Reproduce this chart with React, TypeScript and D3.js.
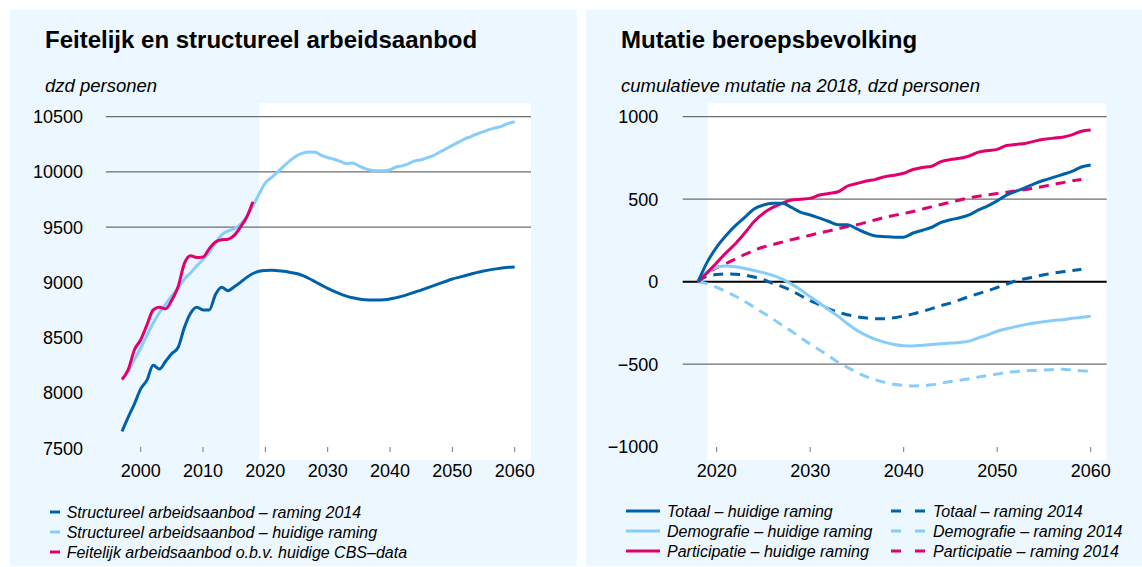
import React from 'react';
import * as d3 from 'd3';

// ---------- DATA ----------
// Left chart: Feitelijk en structureel arbeidsaanbod (dzd personen)
const structureel2014Start = 1997;
const structureel2014 = [
  7650, 7780, 7900, 8035, 8115, 8250, 8215, 8285, 8355, 8410, 8590, 8720, 8775, 8750, 8750, 8890,
  8955, 8925, 8960, 9000, 9045, 9080, 9100, 9108, 9110, 9106, 9100, 9090, 9080, 9060, 9035, 9005,
  8975, 8945, 8920, 8895, 8875, 8860, 8850, 8843, 8840, 8840, 8843, 8850, 8862, 8875, 8893, 8912,
  8930, 8950, 8970, 8990, 9010, 9030, 9045, 9060, 9075, 9090, 9102, 9113, 9122, 9130, 9137, 9140,
];
const structureelHuidigStart = 1998;
const structureelHuidig = [
  8190, 8300, 8405, 8520, 8630, 8725, 8800, 8880, 8945, 9030, 9085, 9150, 9205, 9270, 9355, 9430,
  9465, 9485, 9525, 9590, 9690, 9800, 9900, 9950, 10000, 10055, 10105, 10145, 10170, 10180, 10178,
  10150, 10130, 10115, 10095, 10075, 10080, 10055, 10030, 10015, 10010, 10010, 10020, 10045, 10055,
  10075, 10100, 10110, 10130, 10150, 10180, 10210, 10240, 10270, 10300, 10320, 10345, 10365, 10385,
  10400, 10415, 10440, 10455,
];
const feitelijkStart = 1997;
const feitelijk = [
  8120, 8210, 8390, 8480, 8615, 8750, 8775, 8760, 8840, 8960, 9170, 9240, 9225, 9230, 9305, 9365,
  9385, 9390, 9425, 9500, 9590, 9730,
];
const leftYTicks = [7500, 8000, 8500, 9000, 9500, 10000, 10500];
const leftGridValues = [9500, 10000, 10500];
const leftXTicks = [2000, 2010, 2020, 2030, 2040, 2050, 2060];

// Right chart: Mutatie beroepsbevolking (cumulatieve mutatie na 2018)
const rightStart = 2018;
const totaalHuidig = [
  0, 120, 210, 280, 340, 390, 440, 465, 475, 475, 450, 420, 404, 385, 365, 345, 345, 320, 295, 277,
  273, 270, 270, 295, 312, 330, 360, 375, 388, 405, 435, 460, 490, 525, 548, 570, 595, 615, 632, 650,
  668, 695, 707,
];
const demografieHuidig = [
  0, 60, 88, 95, 90, 80, 68, 55, 38, 15, -15, -50, -91, -130, -170, -210, -255, -295, -325, -350,
  -368, -380, -388, -390, -385, -380, -376, -372, -368, -360, -340, -322, -300, -285, -272, -260,
  -250, -242, -235, -230, -222, -216, -210,
];
const participatieHuidig = [
  0, 55, 115, 175, 230, 295, 365, 415, 450, 475, 495, 500, 505, 525, 535, 545, 580, 595, 610, 620,
  637, 645, 657, 680, 692, 700, 728, 740, 748, 762, 785, 795, 802, 825, 832, 838, 852, 863, 870, 876,
  890, 912, 919,
];
const totaal2014 = [
  0, 35, 43, 47, 45, 40, 28, 12, -10, -30, -55, -85, -115, -140, -165, -185, -200, -213, -220, -224,
  -224, -218, -208, -195, -180, -163, -145, -130, -110, -90, -72, -55, -35, -15, 5, 18, 30, 42, 52,
  60, 68, 75,
];
const demografie2014 = [
  0, -12, -35, -60, -88, -120, -155, -190, -225, -265, -300, -340, -378, -414, -450, -490, -520,
  -550, -575, -595, -610, -622, -628, -632, -630, -625, -615, -605, -597, -588, -578, -568, -560,
  -550, -545, -540, -538, -535, -532, -530, -535, -540, -545,
];
const participatie2014 = [
  0, 55, 85, 110, 138, 165, 190, 210, 225, 240, 255, 268, 282, 295, 308, 322, 335, 345, 360, 375,
  390, 402, 414, 425, 440, 455, 468, 482, 495, 508, 518, 527, 535, 542, 550, 558, 568, 578, 590, 600,
  612, 620,
];
const rightYTicks = [-1000, -500, 0, 500, 1000];
const rightGridValues = [-500, 0, 500, 1000];
const rightXTicks = [2020, 2030, 2040, 2050, 2060];

const leftTitle = 'Feitelijk en structureel arbeidsaanbod';
const leftSubtitle = 'dzd personen';
const rightTitle = 'Mutatie beroepsbevolking';
const rightSubtitle = 'cumulatieve mutatie na 2018, dzd personen';

const leftLegend = [
  'Structureel arbeidsaanbod – raming 2014',
  'Structureel arbeidsaanbod – huidige raming',
  'Feitelijk arbeidsaanbod o.b.v. huidige CBS–data',
];
const rightLegendA = ['Totaal – huidige raming', 'Demografie – huidige raming', 'Participatie – huidige raming'];
const rightLegendB = ['Totaal – raming 2014', 'Demografie – raming 2014', 'Participatie – raming 2014'];

// ---------- STYLE ----------
const DARK = '#0061AB';
const LIGHT = '#86CDF9';
const PINK = '#E2006F';
const PANEL = '#ECF7FF';
const GRID = '#6E6E6E';
const FONT = '"Liberation Sans", Arial, Helvetica, sans-serif';

type Pt = [number, number];
const toPts = (start: number, vals: number[]): Pt[] => vals.map((v, i) => [start + i, v]);

export default function App() {
  // Left scales
  const xL = d3.scaleLinear().domain([2000, 2060]).range([140.7, 514.7]);
  const yL = d3.scaleLinear().domain([7500, 10500]).range([448, 116.7]);
  // Right scales
  const xR = d3.scaleLinear().domain([2020, 2060]).range([716.7, 1090.7]);
  const yR = d3.scaleLinear().domain([-1000, 1000]).range([446.7, 116.7]);

  const lineL = d3.line<Pt>().x(d => xL(d[0])).y(d => yL(d[1])).curve(d3.curveMonotoneX);
  const lineR = d3.line<Pt>().x(d => xR(d[0])).y(d => yR(d[1])).curve(d3.curveMonotoneX);

  const leftSeries = [
    { pts: toPts(structureel2014Start, structureel2014), color: DARK },
    { pts: toPts(structureelHuidigStart, structureelHuidig), color: LIGHT },
    { pts: toPts(feitelijkStart, feitelijk), color: PINK },
  ];
  const rightSeries = [
    { pts: toPts(rightStart, demografie2014), color: LIGHT, dash: true },
    { pts: toPts(rightStart, totaal2014), color: DARK, dash: true },
    { pts: toPts(rightStart, participatie2014), color: PINK, dash: true },
    { pts: toPts(rightStart, demografieHuidig), color: LIGHT, dash: false },
    { pts: toPts(rightStart, participatieHuidig), color: PINK, dash: false },
    { pts: toPts(rightStart, totaalHuidig), color: DARK, dash: false },
  ];
  const legendColors = [DARK, LIGHT, PINK];

  const plotTop = 103.3;
  const plotBottom = 460;
  const tickY0 = 447;
  const tickY1 = 452;
  const legFont = 16;

  return (
    <svg
      width={1142}
      height={567}
      style={{ position: 'fixed', left: 0, top: 0, background: '#fff' }}
      fontFamily={FONT}
    >
      {/* panels */}
      <rect x={10} y={10} width={566.7} height={556} fill={PANEL} />
      <rect x={586} y={10} width={556} height={556} fill={PANEL} />

      {/* ---------- LEFT ---------- */}
      <text x={45} y={48} fontSize={24} fontWeight="bold" fill="#000">{leftTitle}</text>
      <text x={45} y={92} fontSize={18.5} fontStyle="italic" fill="#000">{leftSubtitle}</text>
      <rect x={xL(2019)} y={plotTop} width={531 - xL(2019)} height={plotBottom - plotTop} fill="#fff" />
      {leftGridValues.map(v => (
        <line key={v} x1={106} x2={531} y1={yL(v)} y2={yL(v)} stroke={GRID} strokeWidth={1.3} />
      ))}
      {leftYTicks.map(v => (
        <text key={v} x={83} y={yL(v) + 6.5} fontSize={18} textAnchor="end" fill="#000">{v}</text>
      ))}
      {leftXTicks.map(v => (
        <g key={v}>
          <line x1={xL(v)} x2={xL(v)} y1={tickY0} y2={tickY1} stroke="#777" strokeWidth={1} />
          <text x={xL(v)} y={476.5} fontSize={18} textAnchor="middle" fill="#000">{v}</text>
        </g>
      ))}
      {leftSeries.map((s, i) => (
        <path key={i} d={lineL(s.pts) || ''} fill="none" stroke={s.color} strokeWidth={3} strokeLinejoin="round" />
      ))}
      {leftLegend.map((t, i) => (
        <g key={t}>
          <line x1={50} x2={60} y1={512 + i * 20} y2={512 + i * 20} stroke={legendColors[i]} strokeWidth={3} />
          <text x={66.7} y={517.5 + i * 20} fontSize={legFont} fontStyle="italic" fill="#000">{t}</text>
        </g>
      ))}

      {/* ---------- RIGHT ---------- */}
      <text x={621} y={48} fontSize={24} fontWeight="bold" fill="#000">{rightTitle}</text>
      <text x={621} y={92} fontSize={18.5} fontStyle="italic" fill="#000">{rightSubtitle}</text>
      <rect x={xR(2019)} y={plotTop} width={1106.7 - xR(2019)} height={plotBottom - plotTop} fill="#fff" />
      {rightGridValues.map(v => (
        <line
          key={v}
          x1={682.7}
          x2={1106.7}
          y1={yR(v)}
          y2={yR(v)}
          stroke={v === 0 ? '#000' : GRID}
          strokeWidth={v === 0 ? 2 : 1.3}
        />
      ))}
      {rightYTicks.map(v => (
        <text key={v} x={658.3} y={yR(v) + 6.5} fontSize={18} textAnchor="end" fill="#000">
          {v < 0 ? '\u2212' + Math.abs(v) : String(v)}
        </text>
      ))}
      {rightXTicks.map(v => (
        <g key={v}>
          <line x1={xR(v)} x2={xR(v)} y1={tickY0} y2={tickY1} stroke="#777" strokeWidth={1} />
          <text x={xR(v)} y={476.5} fontSize={18} textAnchor="middle" fill="#000">{v}</text>
        </g>
      ))}
      {rightSeries.map((s, i) => (
        <path
          key={i}
          d={lineR(s.pts) || ''}
          fill="none"
          stroke={s.color}
          strokeWidth={3}
          strokeDasharray={s.dash ? '10,7' : undefined}
          strokeLinejoin="round"
        />
      ))}
      {rightLegendA.map((t, i) => (
        <g key={t}>
          <line x1={626} x2={660} y1={511 + i * 20} y2={511 + i * 20} stroke={legendColors[i]} strokeWidth={3} />
          <text x={667} y={517 + i * 20} fontSize={legFont} fontStyle="italic" fill="#000">{t}</text>
        </g>
      ))}
      {rightLegendB.map((t, i) => (
        <g key={t}>
          <line
            x1={891}
            x2={925}
            y1={511 + i * 20}
            y2={511 + i * 20}
            stroke={legendColors[i]}
            strokeWidth={3}
            strokeDasharray="10,14"
          />
          <text x={933} y={517 + i * 20} fontSize={legFont} fontStyle="italic" fill="#000">{t}</text>
        </g>
      ))}
    </svg>
  );
}
